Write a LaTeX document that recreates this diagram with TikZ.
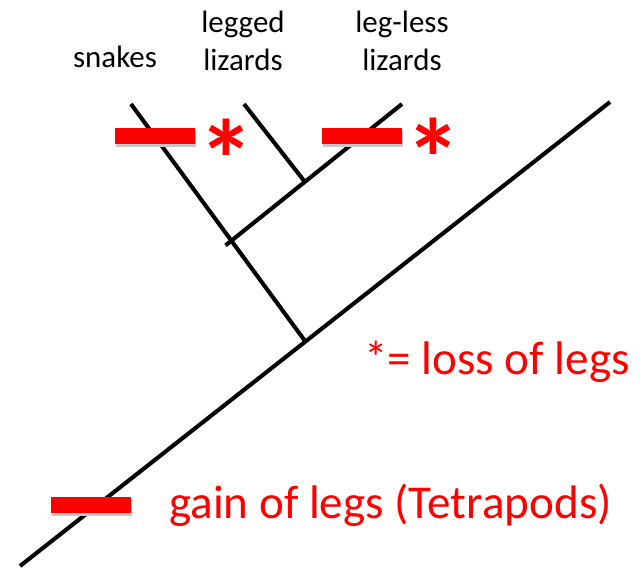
\documentclass[tikz,border=0pt]{standalone}
\usepackage{fontspec}
\setmainfont{Carlito}
\usetikzlibrary{shadows}
\begin{document}
\begin{tikzpicture}[
  x=0.025cm, y=-0.025cm,
  every node/.style={font=\fontsize{22}{27}\selectfont, align=center, inner sep=0pt},
  branch/.style={line width=2.9pt},
  legbar/.style={fill=red, minimum width=2cm, minimum height=0.4cm,
    drop shadow={shadow xshift=1pt, shadow yshift=-2pt, fill=gray!45, opacity=1}},
  star/.style={text=red, font=\fontsize{80}{80}\selectfont\bfseries},
  keytext/.style={text=red, anchor=west, font=\fontsize{33.5}{40}\selectfont}
]
\useasboundingbox (0,0) rectangle (640,568);

% Tree points
\coordinate (base) at (20,566);
\coordinate (tetra) at (610,102);
\coordinate (n1) at (305,341);
\coordinate (n2) at (231,241);
\coordinate (n3) at (305,182);
\coordinate (snk) at (131,104);
\coordinate (lgd) at (244,104);
\coordinate (lls) at (402,104);

% Branches
\draw[branch] (base) -- (tetra);
\draw[branch] (n1) -- (snk);
\draw[branch, shorten <=-5pt] (n2) -- (lls);
\draw[branch] (n3) -- (lgd);

% Taxa
\node (snakes) at (115,57) {snakes};
\node (legged) at (243,41) {legged\\lizards};
\node (legless) at (402,41) {leg-less\\lizards};

% Gains and losses
\node[legbar] (loss1) at (155,136) {};
\node[legbar] (loss2) at (362,136) {};
\node[legbar] (gain) at (91,505) {};
\node[star] (star1) at (227,159) {*};
\node[star] (star2) at (434,158) {*};

% Key
\node[keytext] (losskey) at (364,362) {*= loss of legs};
\node[keytext] (gainkey) at (169,505) {gain of legs (Tetrapods)};
\end{tikzpicture}
\end{document}
